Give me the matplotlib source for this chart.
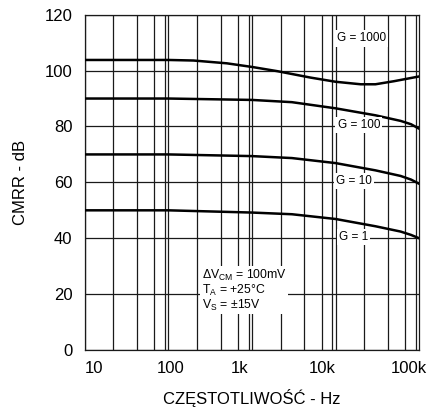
import matplotlib
matplotlib.use("Agg")
import matplotlib.pyplot as plt
import matplotlib.transforms as mtransforms
import numpy as np

plt.rcParams['font.family'] = ['Liberation Sans', 'DejaVu Sans']

# Data
freq_g1000 = [10, 100, 200, 500, 1000, 2000, 5000, 10000, 20000, 30000, 50000, 100000]
cmrr_g1000 = [103.8, 103.8, 103.6, 102.6, 101.3, 99.8, 97.5, 96.0, 95.1, 95.1, 96.2, 97.9]

freq_std = [10, 100, 1000, 3000, 10000, 30000, 60000, 80000, 100000]
cmrr_g100 = [90.0, 90.0, 89.5, 88.7, 86.5, 84.0, 82.0, 80.8, 79.2]
cmrr_g10 = [70.0, 70.0, 69.4, 68.7, 66.9, 64.3, 62.3, 61.0, 59.5]
cmrr_g1 = [50.0, 50.0, 49.2, 48.6, 46.9, 44.3, 42.4, 41.2, 40.0]

gain_labels = ["G = 1000", "G = 100", "G = 10", "G = 1"]
xtick_vals = [10, 100, 1000, 10000, 100000]
xtick_labels = ["10", "100", "1k", "10k", "100k"]
ytick_vals = [0, 20, 40, 60, 80, 100, 120]

fig = plt.figure(figsize=(4.33, 4.08), dpi=100)
ax = fig.add_axes([0.196, 0.142, 0.772, 0.822])

ax.set_xscale('log')
ax.set_xlim(10, 100000)
ax.set_ylim(0, 120)

# grid
minor_mult = [2.2, 4.2, 6.8, 9.1]
for dec in [10, 100, 1000, 10000]:
    for m in minor_mult:
        ax.axvline(dec * m, color='#1a1a1a', lw=0.9, zorder=1)
    ax.axvline(dec, color='#1a1a1a', lw=0.9, zorder=1)
for y in ytick_vals:
    ax.axhline(y, color='#1a1a1a', lw=0.9, zorder=1)

ax.plot(freq_g1000, cmrr_g1000, color='black', lw=1.8, zorder=3)
ax.plot(freq_std, cmrr_g100, color='black', lw=1.8, zorder=3)
ax.plot(freq_std, cmrr_g10, color='black', lw=1.8, zorder=3)
ax.plot(freq_std, cmrr_g1, color='black', lw=1.8, zorder=3)

label_pos = [(20500, 111.5), (19000, 80.5), (16500, 60.5), (16500, 40.5)]
for txt, (x, y) in zip(gain_labels, label_pos):
    ax.text(x, y, txt, fontsize=8.5, ha='center', va='center', zorder=4,
            bbox=dict(facecolor='white', edgecolor='none', pad=1.5))

ax.text(250, 21.4, "ΔV$_{\\mathregular{CM}}$ = 100mV\nT$_{\\mathregular{A}}$ = +25°C\nV$_{\\mathregular{S}}$ = ±15V",
        fontsize=8.8, ha='left', va='center', linespacing=1.0, zorder=4,
        bbox=dict(facecolor='white', edgecolor='none', pad=1.0))

ax.set_xticks(xtick_vals)
ax.set_xticklabels(xtick_labels)
ax.xaxis.set_minor_locator(matplotlib.ticker.NullLocator())
ax.set_yticks(ytick_vals)
ax.tick_params(axis='both', length=0, labelsize=12)
ax.tick_params(axis='x', pad=8)
ax.tick_params(axis='y', pad=9)

# small horizontal shifts of the tick labels as in the reference
shifts = [9, 2, -12, -13, -10]
for lab, dx in zip(ax.get_xticklabels(), shifts):
    lab.set_transform(lab.get_transform() + mtransforms.ScaledTranslation(dx / 100, 0, fig.dpi_scale_trans))

for s in ax.spines.values():
    s.set_color('#1a1a1a')
    s.set_linewidth(0.9)

ax.set_xlabel("CZĘSTOTLIWOŚĆ - Hz", fontsize=12, labelpad=9)
ax.set_ylabel("CMRR - dB", fontsize=12, labelpad=12)

fig.savefig("out.png", dpi=100)
